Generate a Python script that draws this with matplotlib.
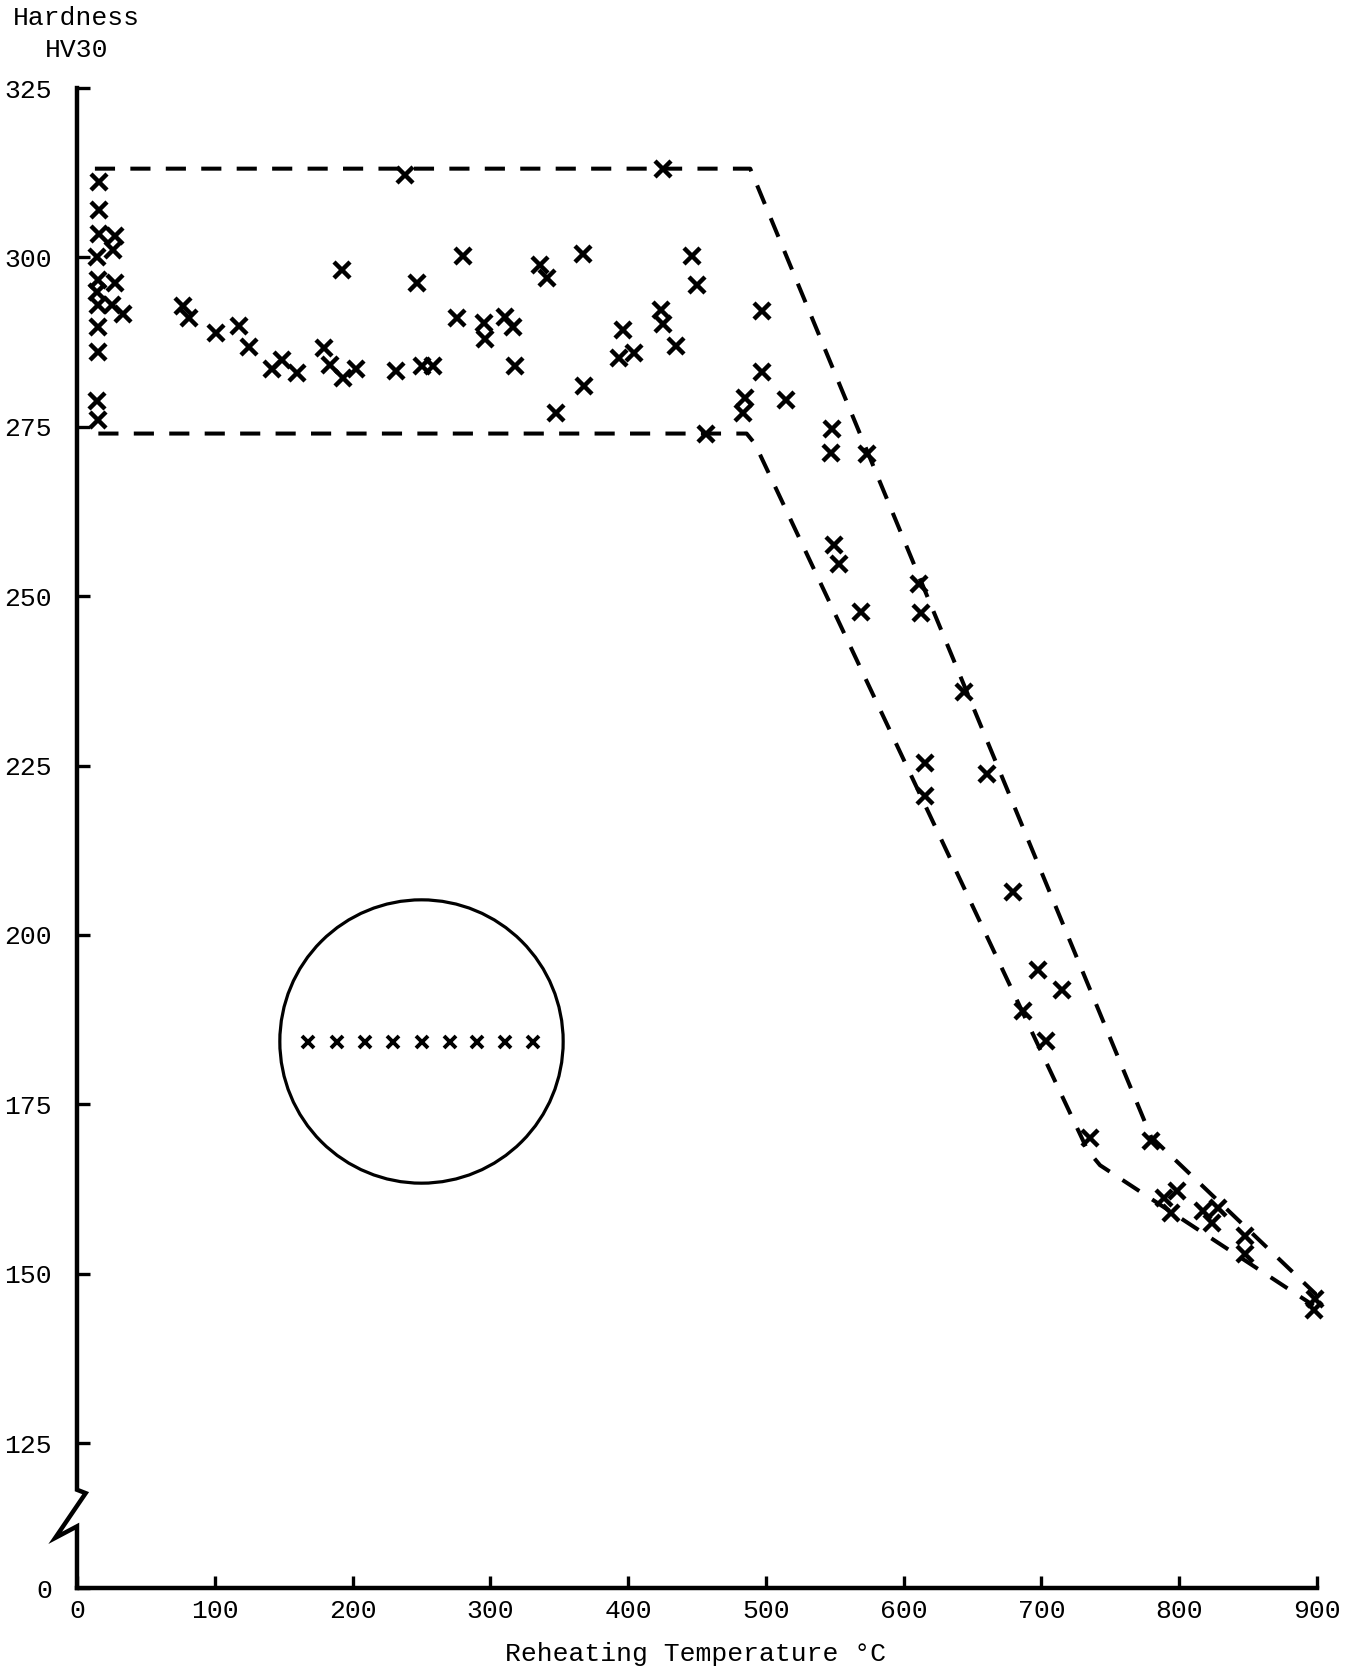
import numpy as np
import matplotlib.pyplot as plt

# hardness readings (reheating temperature degC, HV30)
temp = [16.2, 16.0, 16.0, 27.6, 26.4, 14.3, 15.5, 14.3, 27.6, 15.5, 25.2, 33.6, 15.5, 15.5, 14.8, 15.5,
        77.2, 81.5, 100.7, 117.8, 125.1, 141.3, 148.6, 159.5, 179.3, 183.7, 193.3, 202.5, 192.1,
        238.1, 247.1, 280.5, 335.9, 340.9, 367.1, 276.1, 295.5, 296.2, 310.7, 316.3, 318.0,
        231.6, 250.2, 258.7, 368.1, 347.7, 425.6, 446.2, 449.8, 423.7, 425.1, 396.6, 393.7,
        404.6, 434.8, 456.6, 497.0, 497.0, 485.0, 483.3, 514.7, 547.9, 547.1, 573.2, 549.5,
        553.4, 569.0, 611.2, 612.5, 644.0, 615.6, 615.6, 660.4, 679.0, 697.4, 714.8, 686.4,
        703.2, 735.5, 779.5, 798.3, 789.1, 794.2, 817.0, 827.8, 823.7, 847.4, 847.4, 898.7, 897.5]
hard = [311.1, 307.0, 303.5, 303.1, 301.1, 300.1, 296.6, 294.9, 296.2, 293.0, 293.0, 291.7, 289.8, 286.1, 278.8, 276.0,
        292.8, 291.0, 288.9, 289.9, 286.8, 283.6, 284.8, 282.9, 286.6, 284.1, 282.2, 283.5, 298.1,
        312.1, 296.2, 300.2, 298.9, 297.0, 300.5, 291.1, 290.3, 287.9, 291.2, 289.7, 284.0,
        283.2, 283.9, 283.9, 281.0, 277.1, 313.1, 300.2, 295.9, 292.3, 290.2, 289.3, 285.2,
        285.9, 286.9, 274.0, 292.1, 283.1, 279.2, 277.0, 279.0, 274.6, 271.2, 271.0, 257.5,
        254.8, 247.7, 251.8, 247.5, 235.8, 225.4, 220.5, 223.7, 206.4, 194.8, 191.8, 188.8,
        184.4, 170.0, 169.6, 162.2, 161.1, 158.9, 159.3, 159.7, 157.5, 155.5, 152.9, 146.2, 144.7]

# scatter band limits
upper_t = [13, 488.6, 779.5, 900]
upper_h = [313.1, 313.1, 170.2, 146.8]
lower_t = [15.5, 486.0, 492.0, 733.5, 742.5, 897.5]
lower_h = [274.0, 274.0, 272.5, 168.2, 166.0, 145.3]

# ringed group
ring_t = [167.9, 189.0, 209.1, 229.6, 250.2, 270.8, 290.2, 310.7, 330.8]
ring_h = [184.2] * 9
ring_centre = (249.9, 184.4)

ytick_vals = [125, 150, 175, 200, 225, 250, 275, 300, 325]
xtick_vals = [0, 100, 200, 300, 400, 500, 600, 700, 800, 900]
y_zero = 103.6  # where "0" sits below the axis break

plt.rcParams['font.family'] = ['Liberation Mono', 'DejaVu Sans Mono']

fig = plt.figure(figsize=(13.56, 16.75), dpi=100)
ax = fig.add_axes([0.05678, 0.05194, 0.9145, 0.8955])
ax.set_xlim(0, 900)
ax.set_ylim(y_zero, 325)

ax.plot(upper_t, upper_h, color='black', lw=2.9, linestyle=(0, (5, 3.8)))
ax.plot(lower_t, lower_h, color='black', lw=2.9, linestyle=(0, (5, 3.8)))
ax.plot(temp, hard, 'x', color='black', ms=11, mew=3.2, clip_on=False)

ax.plot(ring_t, ring_h, 'x', color='black', ms=9, mew=2.8)
ax.plot([ring_centre[0]], [ring_centre[1]], 'o', ms=204, mfc='none', mec='black', mew=2.3)

# left axis with break
ax.spines['left'].set_visible(False)
ax.spines['top'].set_visible(False)
ax.spines['right'].set_visible(False)
ax.spines['bottom'].set_linewidth(3.2)
ax.plot([0, 0, 6.3, -15.8, 0, 0], [325, 118.1, 117.6, 111.0, 112.7, y_zero],
        color='black', lw=3.2, clip_on=False, solid_joinstyle='miter')

ax.set_yticks([y_zero] + ytick_vals)
ax.set_yticklabels(['0'] + [str(v) for v in ytick_vals])
ax.set_xticks(xtick_vals)
ax.set_xticklabels([str(v) for v in xtick_vals])
ax.tick_params(axis='y', direction='in', length=9, width=2.4, pad=18, labelsize=19)
ax.tick_params(axis='x', direction='in', length=9, width=2.4, pad=8, labelsize=19)

fig.text(0.0564, 0.9893, 'Hardness', ha='center', va='center', fontsize=19)
fig.text(0.0568, 0.9701, 'HV30', ha='center', va='center', fontsize=19)
fig.text(0.513, 0.01254, 'Reheating Temperature °C', ha='center', va='center', fontsize=19)

plt.savefig('out.png', dpi=100)
